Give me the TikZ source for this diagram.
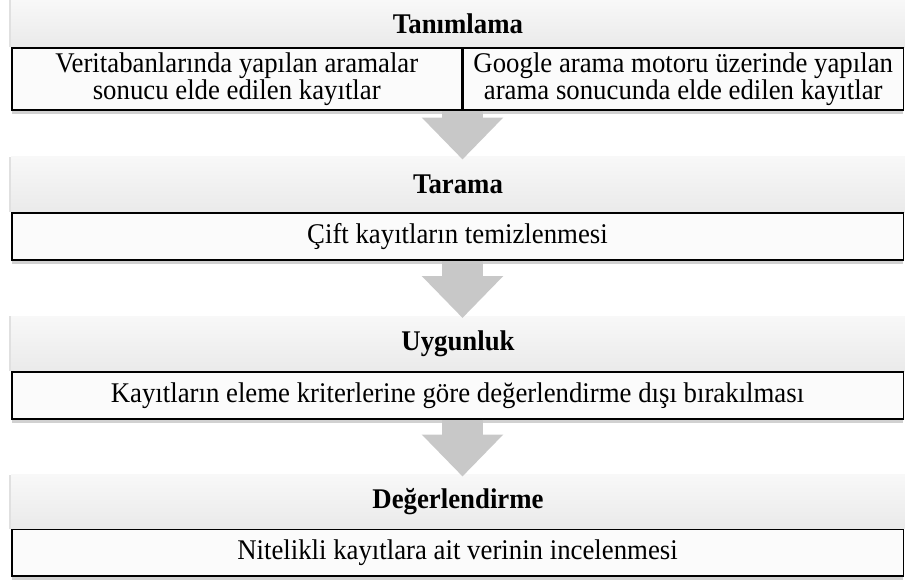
\documentclass[tikz,border=0pt]{standalone}
\usepackage{fontspec}
\setmainfont{Liberation Serif}
\newfontfamily\diagfont[FakeStretch=0.94]{Liberation Serif}
\usetikzlibrary{positioning,arrows.meta,shadows,calc}

\definecolor{bandtop}{RGB}{248,248,248}
\definecolor{bandbot}{RGB}{234,234,234}
\definecolor{cellfill}{RGB}{251,251,251}
\definecolor{arrowgray}{RGB}{200,200,200}

\tikzset{every picture/.style={line width=0.75pt}}
\tikzset{
  band/.style={top color=bandtop, bottom color=bandbot, minimum width=894pt,
    inner sep=0pt, outer sep=0pt, anchor=north west,
    font=\diagfont\fontsize{28.5}{27}\selectfont\bfseries,
    general shadow={shadow xshift=-2pt, shadow yshift=0pt, fill=black, opacity=0.12}},
  cell/.style={draw=black, line width=1.5pt, fill=cellfill, inner sep=0pt,
    anchor=north west, align=center, font=\diagfont\fontsize{28.5}{27}\selectfont,
    general shadow={shadow xshift=0pt, shadow yshift=-4pt, fill=black, opacity=0.18}},
  flowarrow/.style={draw=arrowgray, line width=41pt,
    -{Triangle[width=79pt,length=42pt]}}
}

\begin{document}
\begin{tikzpicture}[x=1pt,y=1pt,yscale=-1,xscale=1]
\useasboundingbox (0,0) rectangle (905,581);

%Tanimlama
\node [band, minimum height=47pt] (h1) at (11,0) {Tanımlama};
\node [cell, minimum width=450pt, minimum height=62pt] (c1) at (h1.south west)
  {Veritabanlarında yapılan aramalar\\sonucu elde edilen kayıtlar};
\node [cell, minimum width=440pt, minimum height=62pt] (c2) at (c1.north east)
  {Google arama motoru üzerinde yapılan\\arama sonucunda elde edilen kayıtlar};

%Tarama
\node [band, minimum height=55.5pt, below=46pt of c1.south west, anchor=north west] (h2) {Tarama};
\node [cell, minimum width=891.5pt, minimum height=47pt] (b2) at (h2.south west)
  {Çift kayıtların temizlenmesi};

%Uygunluk
\node [band, minimum height=55pt, below=55.5pt of b2.south west, anchor=north west] (h3) {Uygunluk};
\node [cell, minimum width=891.5pt, minimum height=47pt] (b3) at (h3.south west)
  {Kayıtların eleme kriterlerine göre değerlendirme dışı bırakılması};

%Degerlendirme
\node [band, minimum height=54pt, below=55pt of b3.south west, anchor=north west] (h4) {Değerlendirme};
\node [cell, minimum width=891.5pt, minimum height=46.5pt] (b4) at (h4.south west)
  {Nitelikli kayıtlara ait verinin incelenmesi};

%Arrows
\draw [flowarrow] (c1.south east) -- ($(c1.south east |- h2.north)+(0,3)$);
\draw [flowarrow] (c1.south east |- b2.south) -- ($(c1.south east |- h3.north)+(0,2)$);
\draw [flowarrow] (c1.south east |- b3.south) -- ($(c1.south east |- h4.north)+(0,2)$);

\end{tikzpicture}
\end{document}
